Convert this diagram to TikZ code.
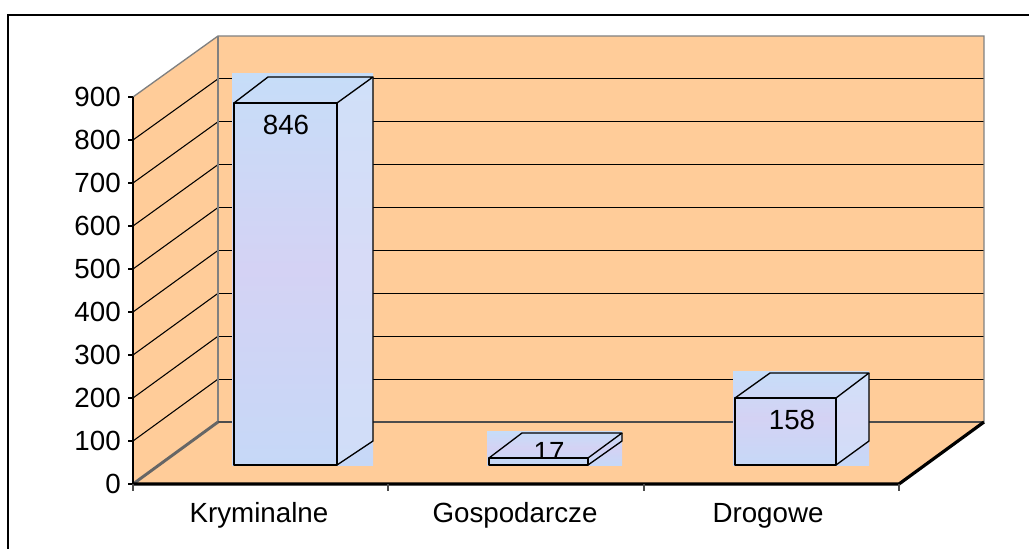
\documentclass[tikz,border=0pt]{standalone}
\usepackage{fontspec}
\setmainfont{Liberation Sans}
\begin{document}
\begin{tikzpicture}[x=0.75pt,y=-0.75pt,
  lbl/.style={inner sep=0pt,font=\fontsize{20.8}{24}\selectfont},
  grid/.style={black,line width=0.8pt},
  edge/.style={draw=black,line width=1pt,line join=round},
  tex/.style={top color=texA,bottom color=texB,middle color=texC}]
\definecolor{peach}{HTML}{FFCC99}
\definecolor{wallgray}{HTML}{808080}
\definecolor{texA}{HTML}{C6DDF8}
\definecolor{texB}{HTML}{C6D8F7}
\definecolor{texC}{HTML}{D4D2F4}
\definecolor{sideA}{HTML}{DCE6FB}
\useasboundingbox (0,0) rectangle (1029,549);
\fill[white] (0,0) rectangle (1029,549);
% outer frame
\draw[line width=2.2pt,black] (8,15) rectangle (1045,570);
% back wall
\fill[peach] (218,36) rectangle (984,422);
% left wall
\fill[peach] (133,97) -- (218,36) -- (218,422) -- (133,484) -- cycle;
% floor
\fill[peach] (133,484) -- (218,422) -- (984,422) -- (899,484) -- cycle;
% gridlines
\foreach \k in {1,...,8}{
  \draw[grid] (218,{422-42.89*\k}) -- (984,{422-42.89*\k});
  \draw[grid] (133,{484-43*\k}) -- (218,{422-42.89*\k});
}
% wall outlines
\draw[wallgray,line width=1pt] (133,97) -- (218,36) -- (984,36) -- (984,422);
\draw[wallgray,line width=1pt] (218,36) -- (218,422);
\draw[black!70,line width=2pt] (218,422) -- (984,422);
\draw[black!60,line width=2.2pt] (133,484) -- (218,422);
% floor front edges
\draw[black,line width=2.4pt,line join=round] (133,484) -- (899,484) -- (984,422);
% y axis
\draw[black,line width=0.9pt] (133,97) -- (133,484);
\foreach \k in {0,...,9}{
  \draw[black,line width=0.9pt] (128,{484-43*\k}) -- (133,{484-43*\k});
  \pgfmathtruncatemacro{\v}{100*\k}
  \node[lbl,anchor=east] (y\k) at (121,{484-43*\k}) {\v};
}
% x ticks
\foreach \xx in {133,388,644,899}{
  \draw[black!70,line width=0.9pt] (\xx,484) -- (\xx,491);
}
% bar 1
\shade[tex] (232,74) rectangle (373,465);
\fill[sideA,opacity=0.45] (337,103) -- (373,77) -- (373,441) -- (337,465) -- cycle;
\draw[edge] (234,103) -- (268,77) -- (373,77) -- (337,103) -- cycle;
\draw[edge] (234,103) rectangle (337,465);
\draw[edge] (337,465) -- (373,441) -- (373,77);
\node[lbl] (v1) at (286,125) {846};
% bar 2
\shade[tex] (487,431) rectangle (622,465);
\node[lbl,anchor=base] (v2) at (549,461) {17};
\fill[texB] (489,458) rectangle (588,465);
\draw[edge] (489,458) -- (522,433) -- (622,433) -- (588,458) -- cycle;
\draw[edge] (489,458) rectangle (588,465);
\draw[edge] (588,465) -- (622,441) -- (622,433);
% bar 3
\shade[tex] (733,371) rectangle (869,465);
\fill[sideA,opacity=0.45] (836,398) -- (869,373) -- (869,441) -- (836,465) -- cycle;
\draw[edge] (735,398) -- (770,373) -- (869,373) -- (836,398) -- cycle;
\draw[edge] (735,398) rectangle (836,465);
\draw[edge] (836,465) -- (869,441) -- (869,373);
\node[lbl] (v3) at (792,420) {158};
% category labels
\node[lbl,anchor=base] (c1) at (259,522) {Kryminalne};
\node[lbl,anchor=base] (c2) at (515,522) {Gospodarcze};
\node[lbl,anchor=base] (c3) at (768,522) {Drogowe};
\end{tikzpicture}
\end{document}
